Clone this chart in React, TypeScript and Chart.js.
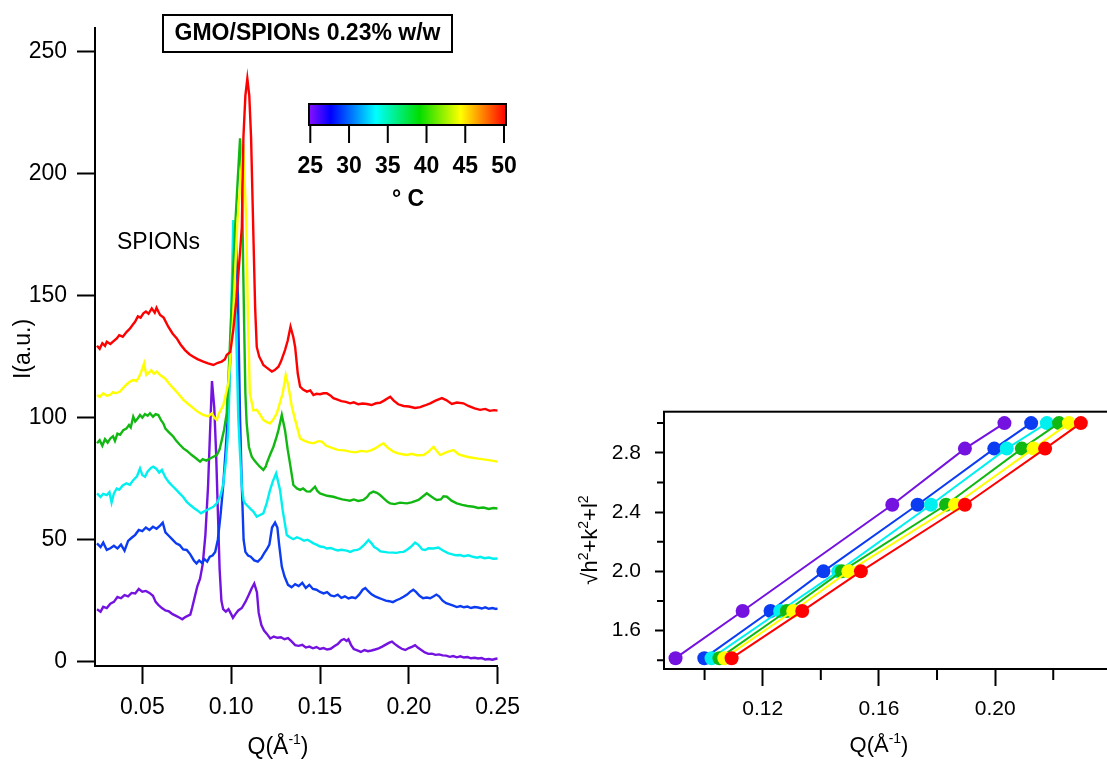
import React, { useEffect, useRef } from "react";
import { Chart, registerables } from "chart.js";

Chart.register(...registerables);

const FONT = "'Liberation Sans', Arial, Helvetica, sans-serif";

// ---------------- Left panel data: SAXS curves, Q (1/Å) vs I (a.u.) ----------------
const TEMPS = [25, 30, 35, 40, 45, 50];
const COLORS = ["#7412e0", "#0c3cf2", "#00f0f0", "#12b812", "#ffff00", "#ff0000"];

const s25: number[][] = [
  [0.0245, 21.5], [0.0265, 20.5], [0.028, 22.5], [0.03, 22.0], [0.032, 23.8], [0.034, 24.5], [0.036, 26.5],
  [0.038, 26.0], [0.04, 27.3], [0.042, 26.8], [0.044, 28.2], [0.046, 28.0], [0.048, 29.8], [0.05, 28.7],
  [0.052, 29.0], [0.054, 28.2], [0.056, 27.0], [0.0575, 24.5], [0.059, 23.3], [0.061, 22.0], [0.063, 21.0],
  [0.065, 20.6], [0.067, 19.5], [0.069, 18.8], [0.071, 18.0], [0.0725, 17.4], [0.074, 18.2], [0.0755, 18.8],
  [0.077, 19.3], [0.078, 22.0], [0.0795, 26.5], [0.081, 31.0], [0.0825, 34.0], [0.084, 40.0], [0.0855, 52.0],
  [0.087, 72.0], [0.088, 92.0], [0.0892, 115.0], [0.0905, 104.0], [0.0915, 86.0], [0.0925, 62.0], [0.0935, 38.0],
  [0.0945, 25.0], [0.0955, 21.5], [0.097, 20.5], [0.0985, 21.5], [0.1, 19.5], [0.101, 18.0], [0.1025, 19.6],
  [0.104, 21.0], [0.106, 22.0], [0.108, 24.5], [0.11, 27.5], [0.1115, 30.0], [0.113, 32.0], [0.1145, 28.5],
  [0.1155, 20.0], [0.117, 15.0], [0.1185, 12.8], [0.12, 11.5], [0.122, 9.5], [0.124, 10.3], [0.126, 9.8],
  [0.128, 10.0], [0.13, 9.2], [0.132, 9.7], [0.134, 8.3], [0.136, 6.8], [0.138, 6.5], [0.14, 6.9], [0.142, 5.8],
  [0.144, 6.2], [0.146, 5.5], [0.148, 6.0], [0.15, 5.2], [0.152, 5.6], [0.154, 5.0], [0.156, 5.3], [0.158, 6.3],
  [0.16, 7.2], [0.162, 8.8], [0.1635, 9.3], [0.165, 8.5], [0.166, 9.2], [0.1675, 6.8], [0.169, 5.2], [0.171, 4.6],
  [0.173, 4.0], [0.175, 4.8], [0.177, 4.3], [0.179, 4.6], [0.181, 5.0], [0.183, 5.5], [0.185, 6.2], [0.187, 7.0],
  [0.189, 7.8], [0.1905, 8.2], [0.192, 7.3], [0.194, 6.2], [0.196, 5.3], [0.198, 4.8], [0.2, 5.6], [0.202, 6.2],
  [0.2035, 6.8], [0.205, 5.8], [0.207, 4.8], [0.209, 3.8], [0.211, 3.2], [0.213, 3.3], [0.215, 2.8], [0.217, 3.0],
  [0.219, 2.6], [0.221, 2.5], [0.223, 2.0], [0.225, 2.3], [0.227, 1.8], [0.229, 2.2], [0.231, 1.7], [0.233, 1.9],
  [0.235, 1.4], [0.237, 1.6], [0.239, 1.3], [0.241, 1.5], [0.243, 0.9], [0.245, 1.1], [0.247, 0.8], [0.249, 1.2],
  [0.25, 1.3],
];

const s30: number[][] = [
  [0.0245, 48.5], [0.0265, 47.0], [0.028, 48.8], [0.03, 45.8], [0.032, 46.5], [0.034, 47.5], [0.036, 46.4],
  [0.038, 48.0], [0.04, 45.5], [0.042, 49.5], [0.044, 50.8], [0.046, 52.0], [0.048, 54.0], [0.05, 53.5],
  [0.052, 55.0], [0.054, 54.0], [0.056, 55.3], [0.058, 54.5], [0.06, 55.8], [0.0615, 57.0], [0.063, 53.0],
  [0.065, 51.5], [0.067, 50.0], [0.069, 48.5], [0.071, 47.8], [0.073, 46.0], [0.075, 45.8], [0.077, 44.0],
  [0.079, 41.5], [0.0805, 40.3], [0.082, 41.5], [0.0835, 40.5], [0.085, 42.0], [0.0865, 41.0], [0.088, 43.0],
  [0.0895, 43.5], [0.091, 45.0], [0.0925, 50.0], [0.094, 60.0], [0.0955, 72.0], [0.097, 88.0], [0.0985, 105.0],
  [0.1, 135.0], [0.1012, 160.0], [0.1025, 176.0], [0.1038, 150.0], [0.105, 100.0], [0.106, 72.0], [0.107, 50.0],
  [0.108, 45.0], [0.1095, 43.5], [0.111, 43.0], [0.113, 41.5], [0.115, 41.0], [0.117, 42.5], [0.1185, 44.4],
  [0.12, 46.0], [0.1215, 48.0], [0.123, 55.0], [0.1247, 57.0], [0.126, 55.0], [0.127, 48.0], [0.1285, 39.0],
  [0.13, 35.0], [0.132, 31.5], [0.134, 30.5], [0.136, 31.8], [0.138, 31.0], [0.14, 32.3], [0.142, 30.2],
  [0.144, 31.5], [0.146, 29.8], [0.148, 29.5], [0.15, 28.6], [0.152, 28.0], [0.154, 28.5], [0.156, 27.2],
  [0.158, 26.8], [0.16, 27.5], [0.162, 26.2], [0.164, 26.8], [0.166, 25.9], [0.168, 26.4], [0.17, 26.0],
  [0.172, 27.5], [0.174, 29.5], [0.1755, 30.2], [0.177, 29.0], [0.179, 27.6], [0.181, 26.8], [0.183, 26.2],
  [0.185, 25.6], [0.187, 25.0], [0.189, 24.8], [0.191, 24.4], [0.193, 25.2], [0.195, 25.8], [0.197, 26.6],
  [0.199, 27.5], [0.201, 28.8], [0.2025, 29.5], [0.204, 28.6], [0.206, 27.0], [0.208, 26.0], [0.21, 26.3],
  [0.212, 26.0], [0.214, 26.8], [0.2155, 27.5], [0.217, 26.8], [0.219, 25.0], [0.221, 24.0], [0.223, 23.5],
  [0.225, 23.0], [0.227, 22.4], [0.229, 22.8], [0.231, 22.3], [0.233, 22.6], [0.235, 22.0], [0.237, 22.4],
  [0.239, 22.2], [0.241, 21.8], [0.243, 22.3], [0.245, 21.7], [0.247, 22.0], [0.249, 21.6], [0.25, 21.9],
];

const s35: number[][] = [
  [0.0245, 69.0], [0.0265, 67.5], [0.028, 68.8], [0.03, 68.3], [0.0315, 69.5], [0.0327, 65.2], [0.034, 69.0],
  [0.0356, 71.0], [0.037, 70.5], [0.039, 72.2], [0.041, 73.1], [0.043, 72.5], [0.045, 74.5], [0.047, 76.0],
  [0.0487, 79.2], [0.05, 76.5], [0.0515, 75.8], [0.053, 78.0], [0.055, 79.5], [0.0562, 79.9], [0.058, 79.0],
  [0.0595, 77.5], [0.061, 78.6], [0.063, 75.5], [0.065, 73.5], [0.067, 72.0], [0.069, 70.5], [0.071, 69.0],
  [0.073, 67.5], [0.075, 65.5], [0.077, 64.2], [0.079, 63.0], [0.081, 62.0], [0.083, 60.8], [0.0845, 61.5],
  [0.086, 62.0], [0.088, 62.8], [0.09, 63.5], [0.092, 65.0], [0.094, 68.0], [0.0956, 73.1], [0.097, 82.0],
  [0.0984, 95.0], [0.0998, 135.0], [0.1012, 181.0], [0.1025, 145.0], [0.104, 100.0], [0.105, 85.0], [0.106, 72.0],
  [0.107, 66.0], [0.1078, 64.9], [0.109, 64.0], [0.111, 62.5], [0.1125, 61.5], [0.1144, 59.4], [0.116, 60.0],
  [0.1181, 60.8], [0.12, 65.0], [0.1219, 70.4], [0.1235, 74.0], [0.1253, 77.2], [0.1265, 73.5], [0.1275, 70.4],
  [0.129, 62.0], [0.1313, 51.9], [0.133, 51.0], [0.135, 50.2], [0.137, 51.0], [0.1388, 50.5], [0.141, 49.6],
  [0.143, 50.0], [0.1463, 48.5], [0.148, 48.0], [0.15, 47.2], [0.152, 47.0], [0.1538, 46.4], [0.156, 46.6],
  [0.158, 46.0], [0.16, 45.6], [0.162, 45.9], [0.165, 45.5], [0.167, 45.0], [0.169, 45.6], [0.171, 45.8],
  [0.1726, 46.4], [0.175, 48.0], [0.1773, 49.9], [0.179, 48.5], [0.1805, 47.0], [0.182, 46.4], [0.184, 45.2],
  [0.186, 45.0], [0.188, 44.8], [0.1913, 44.7], [0.193, 44.6], [0.195, 44.9], [0.197, 45.0], [0.1988, 45.8],
  [0.201, 47.0], [0.2035, 48.8], [0.2055, 47.8], [0.2075, 46.0], [0.2092, 45.8], [0.211, 46.5], [0.2139, 46.4],
  [0.2165, 46.8], [0.2195, 45.5], [0.222, 44.5], [0.2245, 44.0], [0.2265, 43.6], [0.2289, 43.7], [0.231, 43.2],
  [0.2335, 43.6], [0.236, 43.0], [0.2385, 42.6], [0.2401, 43.0], [0.2425, 42.4], [0.245, 42.7], [0.2475, 42.2],
  [0.25, 42.3],
];

const s40: number[][] = [
  [0.0245, 89.5], [0.026, 90.8], [0.0275, 88.5], [0.029, 91.2], [0.0305, 89.8], [0.032, 91.5], [0.0335, 92.4],
  [0.0346, 90.5], [0.036, 93.5], [0.0375, 93.0], [0.0393, 94.9], [0.041, 95.5], [0.0425, 97.0], [0.0435, 96.0],
  [0.0449, 100.4], [0.046, 98.5], [0.0475, 99.8], [0.0487, 101.1], [0.05, 100.0], [0.0515, 101.5], [0.053, 100.8],
  [0.0543, 101.8], [0.056, 100.4], [0.0575, 101.5], [0.059, 101.1], [0.0605, 99.0], [0.0618, 97.7], [0.063, 95.5],
  [0.065, 94.0], [0.0675, 92.2], [0.069, 90.6], [0.071, 89.0], [0.0731, 87.4], [0.075, 86.5], [0.0778, 84.7],
  [0.08, 83.5], [0.0825, 82.0], [0.084, 83.0], [0.086, 82.4], [0.0881, 83.3], [0.09, 84.0], [0.0919, 84.7],
  [0.0935, 87.0], [0.0947, 90.8], [0.096, 95.0], [0.0975, 101.8], [0.099, 125.0], [0.1005, 150.0], [0.102, 175.0],
  [0.1035, 195.0], [0.105, 214.5], [0.1062, 190.0], [0.1068, 160.0], [0.1075, 130.0], [0.108, 110.0],
  [0.1087, 98.0], [0.11, 88.0], [0.1116, 84.0], [0.113, 82.5], [0.1144, 81.3], [0.116, 80.0], [0.1181, 78.6],
  [0.1195, 80.0], [0.12, 81.3], [0.122, 85.0], [0.1238, 88.1], [0.1255, 92.0], [0.1266, 94.9], [0.1285, 101.1],
  [0.1303, 94.9], [0.1318, 87.0], [0.1331, 81.3], [0.135, 72.4], [0.137, 71.0], [0.1388, 70.4], [0.1405, 71.0],
  [0.1425, 69.8], [0.1444, 69.7], [0.1472, 71.7], [0.1485, 70.0], [0.15, 69.0], [0.152, 68.5], [0.154, 68.0],
  [0.1575, 67.6], [0.16, 67.0], [0.1625, 66.5], [0.165, 66.2], [0.1669, 66.0], [0.169, 66.5], [0.1715, 65.9],
  [0.1744, 66.3], [0.1765, 67.5], [0.178, 69.0], [0.18, 69.7], [0.182, 69.2], [0.1838, 68.3], [0.186, 66.8],
  [0.188, 65.5], [0.1895, 64.9], [0.192, 64.6], [0.195, 65.2], [0.1988, 64.9], [0.2015, 65.3], [0.2035, 65.8],
  [0.2054, 66.3], [0.2075, 67.5], [0.2101, 69.0], [0.212, 68.0], [0.214, 67.0], [0.2157, 66.3], [0.218, 66.5],
  [0.2195, 67.8], [0.2214, 67.6], [0.224, 66.0], [0.227, 64.9], [0.23, 64.3], [0.233, 63.8], [0.2364, 63.5],
  [0.239, 63.0], [0.242, 63.2], [0.245, 62.6], [0.2475, 63.0], [0.25, 62.8],
];

const s45: number[][] = [
  [0.0245, 109.3], [0.026, 108.5], [0.028, 110.0], [0.03, 109.0], [0.0318, 109.3], [0.0335, 110.5], [0.035, 110.0],
  [0.0374, 110.7], [0.039, 112.0], [0.041, 113.5], [0.0431, 114.8], [0.045, 115.5], [0.0465, 115.0], [0.0477, 116.1],
  [0.049, 118.0], [0.051, 122.3], [0.0522, 117.5], [0.0534, 118.2], [0.055, 119.5], [0.0565, 118.0], [0.0581, 118.9],
  [0.06, 117.5], [0.0628, 116.1], [0.065, 114.0], [0.0675, 112.0], [0.07, 110.0], [0.0731, 107.3], [0.076, 105.5],
  [0.0787, 103.9], [0.081, 102.5], [0.0843, 101.1], [0.087, 100.5], [0.0891, 101.8], [0.0905, 100.0], [0.0919, 99.1],
  [0.093, 101.5], [0.0956, 105.2], [0.0984, 114.1], [0.101, 140.0], [0.1035, 180.0], [0.1068, 212.0],
  [0.1085, 180.0], [0.1095, 140.0], [0.1105, 110.0], [0.1125, 103.0], [0.1144, 103.2], [0.1165, 101.0],
  [0.1181, 99.1], [0.12, 98.2], [0.1219, 97.7], [0.1235, 99.0], [0.1257, 101.8], [0.129, 110.0], [0.1307, 117.5],
  [0.1322, 113.0], [0.134, 105.0], [0.136, 99.1], [0.1375, 95.0], [0.1388, 91.5], [0.141, 90.6], [0.1435, 89.9],
  [0.1463, 89.5], [0.149, 90.4], [0.151, 90.2], [0.1535, 88.5], [0.1575, 87.4], [0.16, 86.8], [0.1635, 86.6],
  [0.1669, 86.1], [0.17, 85.8], [0.173, 86.4], [0.1763, 86.1], [0.179, 86.7], [0.181, 87.4], [0.1835, 88.6],
  [0.1857, 89.5], [0.188, 87.8], [0.1913, 86.1], [0.194, 85.4], [0.1965, 85.0], [0.1988, 84.7], [0.2015, 85.2],
  [0.2045, 84.6], [0.2082, 84.7], [0.211, 86.0], [0.2139, 88.1], [0.2158, 86.2], [0.2176, 84.7], [0.22, 85.5],
  [0.2225, 86.2], [0.2251, 86.7], [0.228, 85.0], [0.2326, 84.0], [0.2365, 83.5], [0.239, 83.2], [0.242, 82.9],
  [0.245, 82.6], [0.2475, 82.3], [0.25, 82.0],
];

const s50: number[][] = [
  [0.0245, 129.5], [0.026, 128.2], [0.0275, 130.5], [0.029, 129.4], [0.03, 131.1], [0.032, 130.2], [0.034, 131.5],
  [0.0356, 132.5], [0.037, 133.8], [0.039, 133.2], [0.0412, 135.2], [0.043, 136.5], [0.0445, 138.0], [0.0459, 139.3],
  [0.0475, 141.5], [0.049, 141.0], [0.0506, 142.8], [0.052, 143.5], [0.0535, 142.6], [0.0553, 144.8], [0.057, 143.0],
  [0.058, 145.0], [0.06, 142.1], [0.062, 141.0], [0.0646, 137.3], [0.067, 134.5], [0.0694, 132.5], [0.0715, 130.0],
  [0.074, 127.7], [0.0765, 126.0], [0.0787, 125.0], [0.081, 124.0], [0.0843, 123.0], [0.087, 122.3], [0.09, 121.6],
  [0.0925, 122.5], [0.0947, 123.0], [0.0965, 124.0], [0.0975, 125.7], [0.0995, 127.0], [0.1012, 136.0],
  [0.1031, 149.6], [0.105, 168.0], [0.106, 178.0], [0.1069, 215.0], [0.108, 232.0], [0.1091, 239.0],
  [0.1102, 232.0], [0.1112, 215.0], [0.1125, 175.0], [0.1135, 145.0], [0.1144, 129.0], [0.1158, 125.0],
  [0.1172, 123.0], [0.1181, 121.6], [0.12, 120.5], [0.1229, 118.9], [0.1245, 119.5], [0.1266, 120.9], [0.128, 123.0],
  [0.1303, 127.7], [0.1318, 131.5], [0.1334, 137.3], [0.135, 133.0], [0.136, 129.0], [0.1375, 118.0], [0.1388, 112.7],
  [0.1405, 111.5], [0.1426, 110.7], [0.1445, 111.2], [0.1463, 109.3], [0.148, 109.8], [0.15, 109.6], [0.152, 110.0],
  [0.1538, 110.0], [0.156, 109.0], [0.1575, 108.0], [0.1595, 107.5], [0.162, 106.8], [0.1645, 106.5], [0.1669, 105.9],
  [0.169, 106.3], [0.1715, 105.5], [0.174, 105.8], [0.1764, 105.6], [0.179, 105.2], [0.1815, 105.9], [0.1838, 106.1],
  [0.186, 107.0], [0.1895, 108.6], [0.1915, 107.0], [0.194, 105.5], [0.197, 104.8], [0.2, 104.6], [0.2035, 104.0],
  [0.2064, 104.3], [0.209, 105.0], [0.212, 105.9], [0.215, 107.0], [0.2186, 108.0], [0.221, 107.2], [0.2242, 105.6],
  [0.227, 106.2], [0.2307, 105.9], [0.2335, 104.8], [0.237, 103.8], [0.2401, 103.2], [0.243, 103.6], [0.2455, 102.8],
  [0.248, 103.1], [0.25, 102.9],
];

const LEFT_SERIES = [s25, s30, s35, s40, s45, s50];
const LEFT_X_TICKS = [0.05, 0.1, 0.15, 0.2, 0.25];
const LEFT_Y_TICKS = [0, 50, 100, 150, 200, 250];

// ---------------- Right panel data: sqrt(h²+k²+l²) vs Q ----------------
const HKL = [1.414, 1.732, 2.0, 2.449, 2.828, 3.0];
const HKL_25 = [1.414, 1.732, 2.449, 2.828, 3.0];
const Q25 = [0.0900, 0.1131, 0.1646, 0.1896, 0.2032];
const Q30 = [0.0999, 0.1227, 0.1409, 0.1733, 0.1997, 0.2124];
const Q35 = [0.1024, 0.1260, 0.1460, 0.1779, 0.2040, 0.2178];
const Q40 = [0.1051, 0.1283, 0.1472, 0.1831, 0.2092, 0.2220];
const Q45 = [0.1068, 0.1305, 0.1495, 0.1862, 0.2132, 0.2254];
const Q50 = [0.1093, 0.1336, 0.1538, 0.1896, 0.2172, 0.2295];
const RIGHT_SERIES = [
  { q: Q25, h: HKL_25 },
  { q: Q30, h: HKL },
  { q: Q35, h: HKL },
  { q: Q40, h: HKL },
  { q: Q45, h: HKL },
  { q: Q50, h: HKL },
];
const RIGHT_X_TICKS = [0.12, 0.16, 0.2];
const RIGHT_X_MINOR = [0.1, 0.14, 0.18, 0.22];
const RIGHT_Y_TICKS = [1.6, 2.0, 2.4, 2.8];
const RIGHT_Y_MINOR = [1.4, 1.8, 2.2, 2.6, 3.0];

// Colour bar
const BAR_STOPS = [0, 0.11, 0.34, 0.56, 0.77, 1];
const BAR_COLORS = ["#8a10ff", "#0000ff", "#00ffff", "#00dd00", "#ffff00", "#ff0000"];
const TITLE = "GMO/SPIONs 0.23% w/w";

type Part = { t: string; sup?: boolean };

function richWidth(ctx: CanvasRenderingContext2D, parts: Part[], size: number) {
  let w = 0;
  for (const p of parts) {
    ctx.font = `${p.sup ? Math.round(size * 0.62) : size}px ${FONT}`;
    w += ctx.measureText(p.t).width;
  }
  return w;
}

function drawRich(ctx: CanvasRenderingContext2D, parts: Part[], size: number, cx: number, baseY: number) {
  const total = richWidth(ctx, parts, size);
  let x = cx - total / 2;
  ctx.textAlign = "left";
  ctx.textBaseline = "alphabetic";
  for (const p of parts) {
    ctx.font = `${p.sup ? Math.round(size * 0.62) : size}px ${FONT}`;
    ctx.fillText(p.t, x, p.sup ? baseY - size * 0.42 : baseY);
    x += ctx.measureText(p.t).width;
  }
}

const Q_TITLE: Part[] = [{ t: "Q(Å" }, { t: "-1", sup: true }, { t: ")" }];
const HKL_TITLE: Part[] = [
  { t: "√h" }, { t: "2", sup: true }, { t: "+k" }, { t: "2", sup: true }, { t: "+l" }, { t: "2", sup: true },
];

const leftDecor = {
  id: "leftDecor",
  afterDraw(chart: any) {
    const ctx: CanvasRenderingContext2D = chart.ctx;
    ctx.save();
    ctx.fillStyle = "#000";
    ctx.strokeStyle = "#000";
    // title box
    ctx.lineWidth = 2;
    ctx.strokeRect(163, 15, 289, 37);
    ctx.font = `bold 23px ${FONT}`;
    ctx.textAlign = "center";
    ctx.textBaseline = "middle";
    ctx.fillText(TITLE, 307.5, 34);
    // colour bar
    const x0 = 309, x1 = 506, y0 = 104, y1 = 125;
    const g = ctx.createLinearGradient(x0, 0, x1, 0);
    BAR_STOPS.forEach((s, k) => g.addColorStop(s, BAR_COLORS[k]));
    ctx.fillStyle = g;
    ctx.fillRect(x0, y0, x1 - x0, y1 - y0);
    ctx.strokeRect(x0, y0, x1 - x0, y1 - y0);
    const tx0 = 310.3, tx1 = 504;
    ctx.beginPath();
    TEMPS.forEach((t) => {
      const px = tx0 + ((t - TEMPS[0]) / (TEMPS[TEMPS.length - 1] - TEMPS[0])) * (tx1 - tx0);
      ctx.moveTo(px, y1);
      ctx.lineTo(px, 143);
    });
    ctx.stroke();
    ctx.fillStyle = "#000";
    ctx.font = `bold 23px ${FONT}`;
    TEMPS.forEach((t) => {
      const px = tx0 + ((t - TEMPS[0]) / (TEMPS[TEMPS.length - 1] - TEMPS[0])) * (tx1 - tx0);
      ctx.fillText(String(t), px, 167);
    });
    ctx.fillText("° C", 408, 200);
    // annotation
    ctx.font = `23px ${FONT}`;
    ctx.textAlign = "left";
    ctx.fillText("SPIONs", 117, 243);
    // axis titles
    drawRich(ctx, Q_TITLE, 23, 278, 754);
    ctx.save();
    ctx.translate(24, 349);
    ctx.rotate(-Math.PI / 2);
    ctx.font = `23px ${FONT}`;
    ctx.textAlign = "center";
    ctx.textBaseline = "middle";
    ctx.fillText("I(a.u.)", 0, 0);
    ctx.restore();
    ctx.restore();
  },
};

const rightDecor = {
  id: "rightDecor",
  afterDraw(chart: any) {
    const ctx: CanvasRenderingContext2D = chart.ctx;
    const a = chart.chartArea;
    const xs = chart.scales.x;
    const ys = chart.scales.y;
    ctx.save();
    ctx.strokeStyle = "#000";
    ctx.fillStyle = "#000";
    ctx.lineWidth = 2;
    ctx.beginPath();
    RIGHT_X_MINOR.forEach((v) => {
      const px = xs.getPixelForValue(v);
      ctx.moveTo(px, a.bottom);
      ctx.lineTo(px, a.bottom + 11);
    });
    RIGHT_Y_MINOR.forEach((v) => {
      const py = ys.getPixelForValue(v);
      ctx.moveTo(a.left, py);
      ctx.lineTo(a.left - 7, py);
    });
    ctx.stroke();
    ctx.strokeRect(a.left, a.top, a.right - a.left, a.bottom - a.top);
    drawRich(ctx, Q_TITLE, 22, 319, 372);
    ctx.save();
    ctx.translate(37, 160);
    ctx.rotate(-Math.PI / 2);
    drawRich(ctx, HKL_TITLE, 22, 0, 0);
    ctx.restore();
    ctx.restore();
  },
};

export default function App() {
  const leftRef = useRef<HTMLCanvasElement>(null);
  const rightRef = useRef<HTMLCanvasElement>(null);

  useEffect(() => {
    const order = [5, 4, 3, 2, 1, 0];
    const left = new Chart(leftRef.current as HTMLCanvasElement, {
      type: "line",
      data: {
        datasets: LEFT_SERIES.map((s, k) => ({
          label: `${TEMPS[k]} °C`,
          data: s.map(([x, y]) => ({ x, y })),
          borderColor: COLORS[k],
          borderWidth: 2.4,
          pointRadius: 0,
          tension: 0,
          fill: false,
          order: order[k],
        })),
      },
      options: {
        animation: false,
        responsive: false,
        devicePixelRatio: 1,
        layout: { padding: { left: 0, top: 28, right: 560 - 497.7, bottom: 0 } },
        plugins: { legend: { display: false }, tooltip: { enabled: false } },
        scales: {
          x: {
            type: "linear",
            min: 0.02337,
            max: 0.25,
            afterFit: (s: any) => { s.height = 95; },
            afterBuildTicks: (s: any) => { s.ticks = LEFT_X_TICKS.map((v) => ({ value: v })); },
            ticks: {
              callback: (v: any) => Number(v).toFixed(2),
              font: { family: FONT, size: 23 },
              color: "#000",
              padding: 10,
              maxRotation: 0,
              autoSkip: false,
            },
            grid: { drawOnChartArea: false, drawTicks: true, tickLength: 18, tickWidth: 2, tickColor: "#000" },
            border: { display: true, color: "#000", width: 2 },
          },
          y: {
            type: "linear",
            min: -1.76,
            max: 259.7,
            afterFit: (s: any) => { s.width = 95; },
            afterBuildTicks: (s: any) => { s.ticks = LEFT_Y_TICKS.map((v) => ({ value: v })); },
            ticks: {
              callback: (v: any) => String(v),
              font: { family: FONT, size: 23 },
              color: "#000",
              padding: 10,
              autoSkip: false,
            },
            grid: { drawOnChartArea: false, drawTicks: true, tickLength: 18, tickWidth: 2, tickColor: "#000" },
            border: { display: true, color: "#000", width: 2 },
          },
        },
      },
      plugins: [leftDecor],
    } as any);

    const right = new Chart(rightRef.current as HTMLCanvasElement, {
      type: "line",
      data: {
        datasets: RIGHT_SERIES.map((s, k) => ({
          label: `${TEMPS[k]} °C`,
          data: s.q.map((x, i) => ({ x, y: s.h[i] })),
          borderColor: COLORS[k],
          backgroundColor: COLORS[k],
          borderWidth: 2,
          pointRadius: 7,
          pointBorderWidth: 0,
          pointBackgroundColor: COLORS[k],
          tension: 0,
          fill: false,
          clip: false,
          order: order[k],
        })),
      },
      options: {
        animation: false,
        responsive: false,
        devicePixelRatio: 1,
        layout: { padding: { left: 0, top: 31.7, right: 44, bottom: 0 } },
        plugins: { legend: { display: false }, tooltip: { enabled: false } },
        scales: {
          x: {
            type: "linear",
            min: 0.08603,
            max: 0.2416,
            afterFit: (s: any) => { s.height = 92; },
            afterBuildTicks: (s: any) => { s.ticks = RIGHT_X_TICKS.map((v) => ({ value: v })); },
            ticks: {
              callback: (v: any) => Number(v).toFixed(2),
              font: { family: FONT, size: 21 },
              color: "#000",
              padding: 11,
              maxRotation: 0,
              autoSkip: false,
            },
            grid: { drawOnChartArea: false, drawTicks: true, tickLength: 17, tickWidth: 2, tickColor: "#000" },
            border: { display: false },
          },
          y: {
            type: "linear",
            min: 1.341,
            max: 3.077,
            afterFit: (s: any) => { s.width = 104; },
            afterBuildTicks: (s: any) => { s.ticks = RIGHT_Y_TICKS.map((v) => ({ value: v })); },
            ticks: {
              callback: (v: any) => Number(v).toFixed(1),
              font: { family: FONT, size: 21 },
              color: "#000",
              padding: 14,
              autoSkip: false,
            },
            grid: { drawOnChartArea: false, drawTicks: true, tickLength: 9, tickWidth: 2, tickColor: "#000" },
            border: { display: false },
          },
        },
      },
      plugins: [rightDecor],
    } as any);

    return () => {
      left.destroy();
      right.destroy();
    };
  }, []);

  return (
    <div
      style={{
        position: "fixed",
        left: 0,
        top: 0,
        width: 1107,
        height: 761,
        overflow: "hidden",
        background: "#fff",
      }}
    >
      <canvas
        ref={leftRef}
        width={560}
        height={761}
        style={{ position: "absolute", left: 0, top: 0, width: 560, height: 761 }}
      />
      <canvas
        ref={rightRef}
        width={600}
        height={381}
        style={{ position: "absolute", left: 560, top: 380, width: 600, height: 381 }}
      />
    </div>
  );
}
